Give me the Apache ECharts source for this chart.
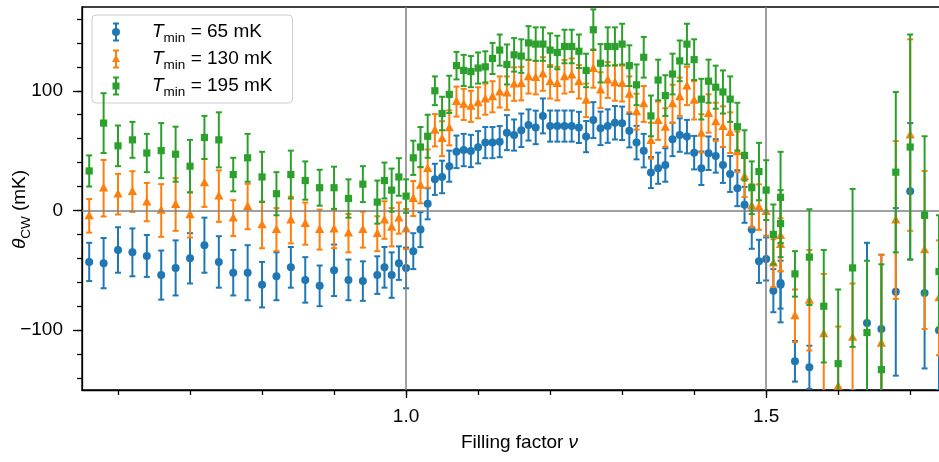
<!DOCTYPE html>
<html>
<head>
<meta charset="utf-8">
<script src="https://cdn.jsdelivr.net/npm/echarts@6/dist/echarts.min.js"></script>
<style>
  html, body { margin: 0; padding: 0; background: #fff; }
  #chart-root { width: 939px; height: 462px; }
</style>
</head>
<body>
<div id="chart-root"></div>
<script>
// filling factor values (coarse steps at the ends, fine steps in the middle)
const nu = [
  0.56, 0.58, 0.60, 0.62, 0.64, 0.66, 0.68, 0.70, 0.72, 0.74,
  0.76, 0.78, 0.80, 0.82, 0.84, 0.86, 0.88, 0.90, 0.92, 0.94,
  0.96, 0.97, 0.98, 0.99, 1.00, 1.01, 1.02, 1.03, 1.04, 1.05,
  1.06, 1.07, 1.08, 1.09, 1.10, 1.11, 1.12, 1.13, 1.14, 1.15,
  1.16, 1.17, 1.18, 1.19, 1.20, 1.21, 1.22, 1.23, 1.24, 1.25,
  1.26, 1.27, 1.28, 1.29, 1.30, 1.31, 1.32, 1.33, 1.34, 1.35,
  1.36, 1.37, 1.38, 1.39, 1.40, 1.41, 1.42, 1.43, 1.44, 1.45,
  1.46, 1.47, 1.48, 1.49, 1.50, 1.51, 1.52, 1.52, 1.54, 1.56,
  1.58, 1.60, 1.62, 1.64, 1.66, 1.68, 1.70, 1.72, 1.74
];

const theta65 = [
  -43, -44, -33, -35, -38, -54, -48, -40, -29, -43,
  -52, -52, -62, -55, -47.5, -58, -63, -50, -58, -59,
  -54, -47.5, -54, -44, -48, -34, -16, 5.6, 26, 28,
  37, 49, 50.5, 49.7, 52.8, 56.7, 56.7, 57.5, 65, 63,
  67, 71.4, 69.4, 79, 70.5, 70.5, 70.5, 70.5, 69.4, 61.7,
  75.5, 68.6, 70.5, 73.3, 72.8, 66.7, 56.7, 50, 31.7, 35.3,
  38, 59.4, 63, 61.7, 48.3, 35.3, 47.8, 45.6, 38, 30.5,
  18.6, 4.7, -16, -42.5, -40.5, -67, -62, -60.5, -126, -131,
  -195, -200, -190, -94, -99, -68, 16, -69, -100
];
const err65 = [
  16, 21, 19, 20, 17.5, 20.5, 23, 21, 23, 21.5,
  19, 23, 19, 20, 17, 19, 17, 21.5, 17, 16.5,
  15.7, 17, 19, 14, 17, 15, 14.6, 13, 13, 13.6,
  13, 13.6, 13.5, 13.5, 13.5, 13, 13, 13, 14.6, 13,
  14, 13, 14, 14.6, 13, 13, 13, 13, 13, 13,
  15, 14, 14, 14, 14, 14, 14, 14, 13, 13,
  14, 14, 14, 14, 14, 14, 14, 14, 15, 15,
  15, 15, 16, 18, 18, 18, 20, 33, 17, 18,
  30, 35, 40, 67, 62, 70, 57, 63, 50
];

const theta130 = [
  -4.5, 18.6, 13.6, 15.8, 7, 0, 5, -3.6, 23, 12,
  -6.4, 3.3, -12, -16, -8, -11, -16, -15.5, -19, -16,
  -19.4, -8, -14, -6.4, -15.5, 10, 21, 35, 67, 60,
  69, 91, 88.6, 87, 90, 93, 95, 99, 98, 105.6,
  106, 111.7, 111, 114, 107.5, 106, 111.7, 113, 107.5, 92,
  118.6, 100.5, 109, 106.7, 106, 97, 82.5, 89, 58.3, 75,
  69.4, 89, 95, 104, 92, 64.4, 81, 74, 70, 65,
  49, 28.3, 3.9, 2.8, -1, -44, -28.6, -21, -88, -75,
  -103, -147, -106, -165, -111, -8, 63, -33, -73
];
const err130 = [
  14, 23.6, 17, 17, 16, 22, 22, 19, 20, 21.5,
  15, 19, 19.5, 18, 19.5, 17.6, 16.7, 16, 16, 15,
  14.6, 15.7, 16, 13, 16.7, 14.6, 15, 16, 13.5, 14.6,
  14.6, 12.5, 13, 13, 13, 13, 13, 13, 14, 14,
  14, 14, 14, 14, 14, 14, 14, 14, 14, 14,
  16, 15, 15, 15, 15, 15, 15, 15, 15, 16,
  16, 16, 16, 16, 16, 16, 16, 16, 17, 17,
  17, 17, 18, 19, 20, 20, 22, 30, 22, 42,
  50, 50, 45, 62, 74, 66, 80, 66, 48
];

const theta195 = [
  33, 73, 54, 59, 48, 50, 47, 37, 61, 59,
  30, 44, 28, 14, 30, 25, 19, 19, 10, 22,
  7, 25, 17, 28, 12, 44, 53, 62, 100, 81,
  97, 121, 117, 116, 119, 120, 127, 134, 122, 130,
  129, 140, 139, 139, 134, 132, 137, 137, 133, 117,
  151, 123, 137, 137, 139, 121, 105, 128, 79, 109,
  96, 114, 125, 139, 126, 93, 108, 103, 99, 93,
  70, 46, 19, 32.5, 17, -20, -11, 11, -53, -39,
  -80, -128, -48, -102, -133, 32, 53, -4, -51
];
const err195 = [
  13, 25, 17, 15, 16, 23, 23, 22, 18, 23,
  14, 20, 21, 18, 20, 16, 15, 17.6, 16, 15,
  18, 15, 18, 15.7, 14, 14.3, 16.7, 18, 12, 14,
  15.6, 11.5, 13, 13, 13, 13, 13, 13, 16.7, 14,
  14, 14, 14, 14, 14, 14, 14, 14, 14, 14,
  17, 16, 16, 16, 17, 17, 17, 17, 17, 17,
  17, 17, 17, 17, 17, 17, 18, 18, 18, 19,
  20, 21, 22, 24, 25, 25, 28, 38, 19, 40,
  47, 62, 66, 60, 88, 67, 94, 66, 47
];

const seriesNames = ['T_min = 65 mK', 'T_min = 130 mK', 'T_min = 195 mK'];
const tempLabels = ['65', '130', '195'];
const colors = ['#1f77b4', '#ff7f0e', '#2ca02c'];
const shapes = ['circle', 'triangle', 'square'];

const xMinorTicks = [0.6, 0.7, 0.8, 0.9, 1.0, 1.1, 1.2, 1.3, 1.4, 1.5, 1.6, 1.7];
const xMajorTicks = [1.0, 1.5];
const yMinorTicks = [-140, -120, -100, -80, -60, -40, -20, 0, 20, 40, 60, 80, 100, 120, 140, 160];
const yMajorTicks = [-100, 0, 100];
const refLinesX = [1.0, 1.5];
const refLinesY = [0];

const FONT = 'Liberation Sans';

// legend handles: errorbar with caps + marker
const legendIcons = [
  'path://M1,0h6v2h-6z M3,0h2v19h-2z M1,17h6v2h-6z M4,5.5a4,4 0 1,1 -0.01,0z',
  'path://M1,0h6v2h-6z M3,0h2v19h-2z M1,17h6v2h-6z M4,5L8,12.5H0z',
  'path://M1,0h6v2h-6z M3,0h2v19h-2z M1,17h6v2h-6z M0.5,6h7v7h-7z'
];

function drawMarker(shape, c, color) {
  if (shape === 'circle') {
    return { type: 'circle', shape: { cx: c[0], cy: c[1], r: 4 }, style: { fill: color } };
  }
  if (shape === 'triangle') {
    return {
      type: 'polygon',
      shape: { points: [[c[0], c[1] - 5.2], [c[0] + 4.6, c[1] + 3.4], [c[0] - 4.6, c[1] + 3.4]] },
      style: { fill: color }
    };
  }
  return { type: 'rect', shape: { x: c[0] - 3.6, y: c[1] - 3.6, width: 7.2, height: 7.2 }, style: { fill: color } };
}

function errorbarRenderer(shape) {
  return function (params, api) {
    const x = api.value(0);
    const y = api.value(1);
    const e = api.value(2);
    const c = api.coord([x, y]);
    const hi = api.coord([x, y + e]);
    const lo = api.coord([x, y - e]);
    const color = api.visual('color');
    const ls = { stroke: color, lineWidth: 2 };
    const cap = 3;
    return {
      type: 'group',
      children: [
        { type: 'line', shape: { x1: c[0], y1: hi[1], x2: c[0], y2: lo[1] }, style: ls },
        { type: 'line', shape: { x1: c[0] - cap, y1: hi[1], x2: c[0] + cap, y2: hi[1] }, style: ls },
        { type: 'line', shape: { x1: c[0] - cap, y1: lo[1], x2: c[0] + cap, y2: lo[1] }, style: ls },
        drawMarker(shape, c, color)
      ]
    };
  };
}

function toPoints(values, errors) {
  return nu.map(function (x, i) { return [x, values[i], errors[i]]; });
}

const allValues = [theta65, theta130, theta195];
const allErrors = [err65, err130, err195];

function minusSign(v) {
  return v < 0 ? '\u2212' + Math.abs(v) : String(v);
}

const chart = echarts.init(document.getElementById('chart-root'));

const series = [{
  type: 'line',
  data: [],
  silent: true,
  z: 1,
  markLine: {
    silent: true,
    symbol: 'none',
    label: { show: false },
    lineStyle: { color: '#808080', width: 1.5, type: 'solid' },
    data: refLinesX.map(function (v) { return { xAxis: v }; })
      .concat(refLinesY.map(function (v) { return { yAxis: v }; }))
  }
}];

seriesNames.forEach(function (name, k) {
  series.push({
    name: name,
    type: 'custom',
    clip: true,
    z: 3 + k,
    itemStyle: { color: colors[k] },
    renderItem: errorbarRenderer(shapes[k]),
    encode: { x: 0, y: 1 },
    data: toPoints(allValues[k], allErrors[k])
  });
});

const richText = {
  sp: { width: 27, fontSize: 19, lineHeight: 16, verticalAlign: 'middle' },
  end: { width: 22, fontSize: 19, lineHeight: 16, verticalAlign: 'middle' },
  i: { fontFamily: FONT, fontStyle: 'italic', fontSize: 19, lineHeight: 16, color: '#000', verticalAlign: 'middle' },
  s: { fontFamily: FONT, fontSize: 13.5, lineHeight: 14, padding: [12, 0, 0, 0], color: '#000', verticalAlign: 'middle' },
  t: { fontFamily: FONT, fontSize: 19, lineHeight: 16, color: '#000', verticalAlign: 'middle' }
};

const axisLineStyle = { color: '#000', width: 1.3 };

chart.setOption({
  animation: false,
  backgroundColor: '#fff',
  grid: {
    left: 82, top: 7, right: -18, bottom: 72,
    outerBoundsMode: 'none',
    containLabel: false,
    show: true, borderColor: '#000', borderWidth: 1.3, backgroundColor: 'transparent'
  },
  legend: {
    orient: 'vertical',
    left: 92,
    top: 15,
    padding: [4, 20, 4, 20],
    itemGap: 1,
    itemWidth: 8,
    itemHeight: 19,
    borderColor: '#cccccc',
    borderWidth: 1,
    borderRadius: 4,
    backgroundColor: 'rgba(255,255,255,0.8)',
    data: seriesNames.map(function (name, k) {
      return { name: name, icon: legendIcons[k], itemStyle: { color: colors[k] } };
    }),
    formatter: function (name) {
      const k = seriesNames.indexOf(name);
      return '{sp|}{i|T}{s|min}{t| = ' + tempLabels[k] + ' mK}';
    },
    textStyle: { rich: richText }
  },
  xAxis: [{
    type: 'value', min: 0.55, max: 1.765,
    axisLine: { show: true, onZero: false, lineStyle: axisLineStyle },
    axisTick: { show: true, length: 5, customValues: xMinorTicks, lineStyle: axisLineStyle },
    axisLabel: { show: false },
    splitLine: { show: false }
  }, {
    type: 'value', min: 0.55, max: 1.765, position: 'bottom',
    axisLine: { show: false, onZero: false },
    axisTick: { show: true, length: 8, customValues: xMajorTicks, lineStyle: axisLineStyle },
    axisLabel: {
      customValues: xMajorTicks, margin: 17, color: '#000', fontFamily: FONT, fontSize: 19,
      formatter: function (v) { return v.toFixed(1); }
    },
    splitLine: { show: false },
    name: '{t|Filling factor }{i|ν}',
    nameLocation: 'middle',
    nameGap: 45,
    nameMoveOverlap: false,
    nameTextStyle: { rich: richText }
  }],
  yAxis: [{
    type: 'value', min: -150, max: 170,
    axisLine: { show: true, onZero: false, lineStyle: axisLineStyle },
    axisTick: { show: true, length: 5, customValues: yMinorTicks, lineStyle: axisLineStyle },
    axisLabel: { show: false },
    splitLine: { show: false }
  }, {
    type: 'value', min: -150, max: 170, position: 'left',
    axisLine: { show: false, onZero: false },
    axisTick: { show: true, length: 9, customValues: yMajorTicks, lineStyle: axisLineStyle },
    axisLabel: {
      customValues: yMajorTicks, margin: 19, color: '#000', fontFamily: FONT, fontSize: 19,
      formatter: minusSign
    },
    splitLine: { show: false },
    name: '{i|θ}{s|CW}{t| (mK)}{end|}',
    nameLocation: 'middle',
    nameGap: 54,
    nameMoveOverlap: false,
    nameTextStyle: { rich: richText }
  }],
  series: series
});
</script>
</body>
</html>
